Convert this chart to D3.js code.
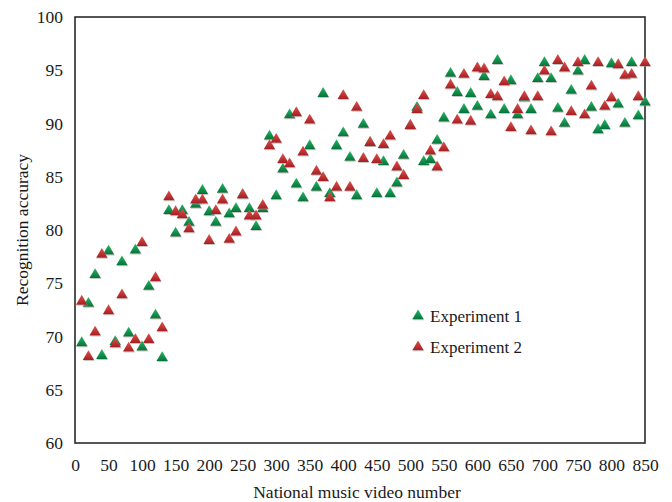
<!DOCTYPE html>
<html>
<head>
<meta charset="utf-8">
<script src="https://cdn.jsdelivr.net/npm/d3@7"></script>
<style>
  html, body { margin: 0; padding: 0; background: #fff; }
  svg { display: block; }
  text { font-family: "Liberation Serif", "Times New Roman", serif; fill: #1a1a1a; }
</style>
</head>
<body>
<svg id="chart" width="672" height="502"></svg>
<script>
// Video numbers (shared by both experiments)
const videoNumbers = [10,20,30,40,50,60,70,80,90,100,110,120,130,140,150,160,170,180,190,200,
  210,220,230,240,250,260,270,280,290,300,310,320,330,340,350,360,370,380,390,400,
  410,420,430,440,450,460,470,480,490,500,510,520,530,540,550,560,570,580,590,600,
  610,620,630,640,650,660,670,680,690,700,710,720,730,740,750,760,770,780,790,800,
  810,820,830,840,850];

// Recognition accuracy, experiment 1
const experiment1 = [69.4,73.1,75.8,68.2,78.0,69.5,77.0,70.3,78.1,69.0,74.7,72.0,68.0,81.8,79.7,81.8,80.7,82.4,83.7,81.7,
  80.7,83.8,81.5,82.0,83.3,82.0,80.3,82.0,88.8,83.2,85.7,90.8,84.3,83.0,87.9,84.0,92.8,83.4,87.9,89.1,
  86.8,83.2,89.9,88.2,83.4,86.4,83.4,84.4,87.0,89.8,91.5,86.4,86.6,88.4,90.5,94.7,92.9,91.3,92.8,91.6,
  94.4,90.8,95.9,91.3,94.0,90.8,92.4,91.3,94.2,95.7,94.2,91.4,90.0,93.1,94.9,95.9,91.5,89.4,89.8,95.6,
  91.8,90.0,95.7,90.7,92.0];

// Recognition accuracy, experiment 2
const experiment2 = [73.3,68.1,70.4,77.7,72.4,69.3,73.9,68.9,69.7,78.8,69.7,75.5,70.8,83.1,81.7,81.4,80.1,82.8,82.8,79.0,
  81.8,82.8,79.1,79.8,83.3,81.3,81.3,82.3,87.9,88.5,86.6,86.2,91.0,87.3,90.3,85.5,84.9,83.0,84.0,92.6,
  84.0,91.5,86.7,88.2,86.6,88.0,88.8,85.9,85.1,89.8,91.3,92.6,87.4,85.9,87.7,93.6,90.3,94.6,90.2,95.2,
  95.1,92.7,92.5,93.9,89.6,91.3,92.5,89.3,92.5,94.9,89.2,95.9,95.2,91.1,95.7,90.8,93.5,95.7,91.6,92.4,
  95.5,94.5,94.6,92.5,95.7];

const xTicks = [0,50,100,150,200,250,300,350,400,450,500,550,600,650,700,750,800,850];
const yTicks = [60,65,70,75,80,85,90,95,100];
const seriesNames = ["Experiment 1", "Experiment 2"];

const svg = d3.select("#chart");
const margin = { left: 75, right: 27, top: 17, bottom: 59 };
const W = 672, H = 502;
const plotW = W - margin.left - margin.right;
const plotH = H - margin.top - margin.bottom;

const x = d3.scaleLinear().domain([0, 850]).range([margin.left, margin.left + plotW]);
const y = d3.scaleLinear().domain([60, 100]).range([margin.top + plotH, margin.top]);

// Gradients and soft shadow for the triangle markers
const defs = svg.append("defs");
const grads = [
  { id: "gGreen", top: "#22b864", bottom: "#04733a" },
  { id: "gRed", top: "#e0504c", bottom: "#a61f22" }
];
grads.forEach(g => {
  const lg = defs.append("linearGradient").attr("id", g.id)
    .attr("x1", 0).attr("y1", 0).attr("x2", 0).attr("y2", 1);
  lg.append("stop").attr("offset", "0%").attr("stop-color", g.top);
  lg.append("stop").attr("offset", "100%").attr("stop-color", g.bottom);
});
const f = defs.append("filter").attr("id", "shadow")
  .attr("x", "-50%").attr("y", "-50%").attr("width", "200%").attr("height", "200%");
f.append("feDropShadow").attr("dx", 0.6).attr("dy", 1).attr("stdDeviation", 0.6)
  .attr("flood-color", "#999").attr("flood-opacity", 0.55);

const fontSize = "17.5px";

// Axes: labels only, the frame is drawn separately
const xAxis = d3.axisBottom(x).tickValues(xTicks).tickSize(0).tickPadding(16);
svg.append("g").attr("transform", `translate(0,${margin.top + plotH})`)
  .call(xAxis)
  .call(g => g.select(".domain").remove())
  .selectAll("text").style("font-size", fontSize).style("font-family", "Liberation Serif").attr("fill", "#1a1a1a");

const yAxis = d3.axisLeft(y).tickValues(yTicks).tickSize(0).tickPadding(12);
svg.append("g").attr("transform", `translate(${margin.left},0)`)
  .call(yAxis)
  .call(g => g.select(".domain").remove())
  .selectAll("text").style("font-size", fontSize).style("font-family", "Liberation Serif").attr("fill", "#1a1a1a");

// Plot frame
svg.append("rect")
  .attr("x", margin.left).attr("y", margin.top)
  .attr("width", plotW).attr("height", plotH)
  .attr("fill", "none").attr("stroke", "#2a2a2a").attr("stroke-width", 1.6);

// Triangle markers
const tri = d3.symbol().type(d3.symbolTriangle).size(56);
const series = [
  { values: experiment1, fill: "url(#gGreen)" },
  { values: experiment2, fill: "url(#gRed)" }
];
series.forEach(s => {
  svg.append("g").selectAll("path")
    .data(videoNumbers.map((v, i) => [v, s.values[i]]))
    .join("path")
    .attr("d", tri)
    .attr("transform", d => `translate(${x(d[0])},${y(d[1])})`)
    .attr("fill", s.fill)
    .attr("filter", "url(#shadow)");
});

// Legend
const legend = svg.append("g");
seriesNames.forEach((name, i) => {
  const ly = 316 + i * 31;
  legend.append("path").attr("d", tri)
    .attr("transform", `translate(418,${ly})`)
    .attr("fill", series[i].fill).attr("filter", "url(#shadow)");
  legend.append("text").attr("x", 430).attr("y", ly + 6)
    .style("font-size", "17px").text(name);
});

// Axis titles
svg.append("text")
  .attr("x", margin.left + plotW / 2 - 3).attr("y", 498)
  .attr("text-anchor", "middle").style("font-size", fontSize)
  .text("National music video number");

svg.append("text")
  .attr("transform", `translate(28,${margin.top + plotH / 2}) rotate(-90)`)
  .attr("text-anchor", "middle").style("font-size", fontSize)
  .text("Recognition accuracy");
</script>
</body>
</html>
